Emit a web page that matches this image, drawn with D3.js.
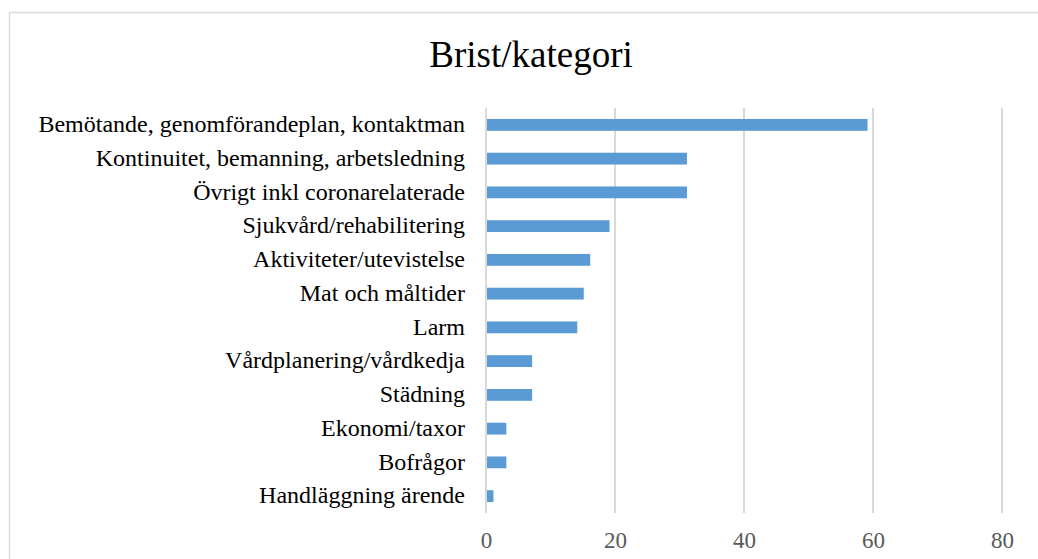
<!DOCTYPE html>
<html>
<head>
<meta charset="utf-8">
<script src="https://cdn.jsdelivr.net/npm/d3@7"></script>
<style>
  body { margin: 0; background: #fff; }
  svg { display: block; }
</style>
</head>
<body>
<div id="chart"></div>
<script>
// kategorier och antal, uppifrån och ned
var categories = [
  "Bemötande, genomförandeplan, kontaktman",
  "Kontinuitet, bemanning, arbetsledning",
  "Övrigt inkl coronarelaterade",
  "Sjukvård/rehabilitering",
  "Aktiviteter/utevistelse",
  "Mat och måltider",
  "Larm",
  "Vårdplanering/vårdkedja",
  "Städning",
  "Ekonomi/taxor",
  "Bofrågor",
  "Handläggning ärende"
];
var values = [59, 31, 31, 19, 16, 15, 14, 7, 7, 3, 3, 1];
var ticks = [0, 20, 40, 60, 80];

var width = 1038, height = 559;
var margin = { top: 108, right: 36, bottom: 46, left: 486 };
var serif = "'Liberation Serif', 'Times New Roman', serif";

var svg = d3.select("#chart").append("svg")
    .attr("width", width)
    .attr("height", height);

// ram
svg.append("rect")
    .attr("x", 9.5)
    .attr("y", 12.5)
    .attr("width", width + 10)
    .attr("height", height + 10)
    .attr("fill", "none")
    .attr("stroke", "#d9d9d9")
    .attr("stroke-width", 1.5);

svg.append("text")
    .attr("x", 531)
    .attr("y", 67)
    .attr("text-anchor", "middle")
    .style("font-family", serif)
    .style("font-size", "37px")
    .style("fill", "#000")
    .text("Brist/kategori");

var x = d3.scaleLinear()
    .domain([0, 80])
    .range([margin.left, 1002]);

var y = d3.scaleBand()
    .domain(categories)
    .range([margin.top, height - margin.bottom])
    .paddingInner(0.65)
    .paddingOuter(0.325);

// rutnät
svg.append("g")
    .selectAll("line")
    .data(ticks)
    .enter()
    .append("line")
    .attr("x1", function (d) { return x(d); })
    .attr("x2", function (d) { return x(d); })
    .attr("y1", margin.top)
    .attr("y2", height - margin.bottom)
    .attr("stroke", "#d9d9d9")
    .attr("stroke-width", 2);

svg.append("g")
    .selectAll("rect")
    .data(values)
    .enter()
    .append("rect")
    .attr("x", x(0) + 1)
    .attr("y", function (d, i) { return y(categories[i]); })
    .attr("width", function (d) { return x(d) - x(0); })
    .attr("height", y.bandwidth())
    .attr("fill", "#5b9bd5");

// kategorietiketter
var yAxis = svg.append("g")
    .attr("transform", "translate(" + (margin.left - 21) + ",0)")
    .call(d3.axisLeft(y).tickSize(0).tickPadding(0));
yAxis.select(".domain").remove();
yAxis.selectAll("text")
    .attr("dy", "0.3em")
    .style("font-family", serif)
    .style("font-size", "24px")
    .style("fill", "#000");

// x-axel
var xAxis = svg.append("g")
    .attr("transform", "translate(0," + (height - margin.bottom) + ")")
    .call(d3.axisBottom(x).tickValues(ticks).tickSize(0).tickPadding(19));
xAxis.select(".domain").remove();
xAxis.selectAll("text")
    .style("font-family", serif)
    .style("font-size", "23px")
    .style("fill", "#595959");
</script>
</body>
</html>
